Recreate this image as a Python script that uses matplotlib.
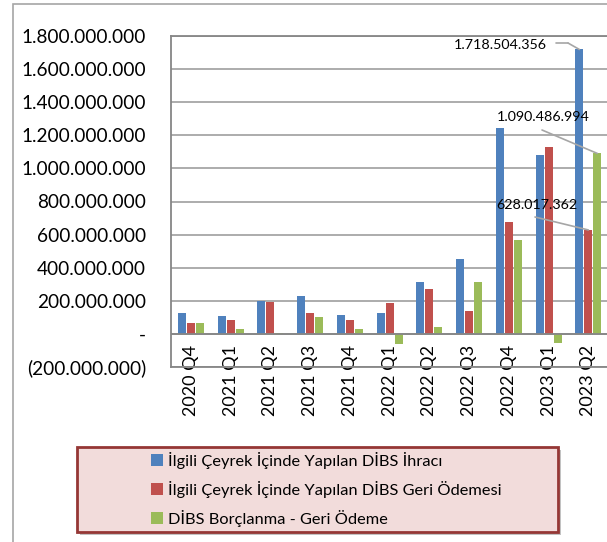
import numpy as np
import matplotlib
matplotlib.use('Agg')
import matplotlib.pyplot as plt
from matplotlib.patches import Rectangle, Patch
from matplotlib.ticker import FuncFormatter

plt.rcParams['font.family'] = ['Lato', 'DejaVu Sans']

# Veri
quarters = ['2020 Q4', '2021 Q1', '2021 Q2', '2021 Q3', '2021 Q4', '2022 Q1',
            '2022 Q2', '2022 Q3', '2022 Q4', '2023 Q1', '2023 Q2']
ihrac = [129e6, 111e6, 199e6, 230e6, 117e6, 129e6, 314e6, 453e6, 1247e6, 1080e6, 1718504356]
geri_odeme = [66e6, 83e6, 195e6, 129e6, 85e6, 187e6, 272e6, 139e6, 677e6, 1132e6, 628017362]
net = [63e6, 28e6, 5e6, 102e6, 29e6, -62e6, 44e6, 314e6, 570e6, -55e6, 1090486994]

series_names = ['İlgili Çeyrek İçinde Yapılan DİBS İhracı',
                'İlgili Çeyrek İçinde Yapılan DİBS Geri Ödemesi',
                'DİBS Borçlanma - Geri Ödeme']
colors = ['#4F81BD', '#C0504D', '#9BBB59']

W, H = 607, 542
fig = plt.figure(figsize=(W / 100, H / 100), dpi=100)

# grafik alani cercevesi
fig.patches.append(Rectangle((13 / W, -0.1), 1.2, 1.1 - 4 / H, transform=fig.transFigure,
                             fill=False, edgecolor='#A6A6A6', linewidth=1.2))

ax = fig.add_axes([171 / W, 1 - 367 / H, (W - 171) / W + 0.002, (367 - 36) / H])

x = np.arange(len(quarters))
width = 0.2
for i, (vals, c) in enumerate(zip([ihrac, geri_odeme, net], colors)):
    ax.bar(x + (i - 1) * 0.225, vals, width, color=c, zorder=3)

ax.set_xlim(-0.5, len(quarters) - 0.5)
ax.set_ylim(-200e6, 1800e6)
ax.set_yticks(np.arange(-200e6, 1800e6 + 1, 200e6))


def tr_format(v, pos):
    if abs(v) < 1:
        return '-'
    s = '{:,.0f}'.format(abs(v)).replace(',', '.')
    return '(' + s + ')' if v < 0 else s


ax.yaxis.set_major_formatter(FuncFormatter(tr_format))
ax.grid(axis='y', color='#A6A6A6', linewidth=1.3, zorder=0)
ax.axhline(0, color='#868686', linewidth=1.3, zorder=4)
for s in ax.spines.values():
    s.set_color('#868686')
    s.set_linewidth(1.3)
ax.spines['right'].set_visible(False)

ax.set_xticks(x)
ax.set_xticklabels(quarters, rotation=90, fontsize=13)
ax.tick_params(axis='x', length=0, pad=-16, labelcolor='black')
for lbl in ax.get_xticklabels():
    lbl.set_verticalalignment('top')
ax.tick_params(axis='y', length=0, pad=18, labelsize=13.7)

# etiketler ve kilavuz cizgileri
last = len(quarters) - 1
line_kw = dict(arrowstyle='-', color='#A6A6A6', lw=1.2, shrinkA=0, shrinkB=0)
ax.annotate('1.718.504.356', xy=(454, H - 45), xycoords='figure pixels',
            fontsize=10.3, va='center', ha='left', zorder=6)
ax.annotate('', xy=(568, H - 43), xycoords='figure pixels', xytext=(556, H - 43),
            textcoords='figure pixels', arrowprops=line_kw)
ax.annotate('', xy=(last - 0.225, ihrac[last]), xytext=(568, H - 43),
            textcoords='figure pixels', arrowprops=line_kw)
ax.annotate('1.090.486.994', xy=(497, H - 117), xycoords='figure pixels',
            fontsize=10.3, va='center', ha='left', zorder=6)
ax.annotate('', xy=(last + 0.225, net[last]), xytext=(542, H - 130),
            textcoords='figure pixels', arrowprops=line_kw)
ax.annotate('628.017.362', xy=(496, H - 205), xycoords='figure pixels',
            fontsize=10.3, va='center', ha='left', zorder=6)
ax.annotate('', xy=(last, geri_odeme[last]), xytext=(535, H - 217),
            textcoords='figure pixels', arrowprops=line_kw)

# lejant kutusu
lx0, ly0, lx1, ly1 = 77, 447, 558, 532
fig.patches.append(Rectangle(((lx0 + 3) / W, 1 - (ly1 + 3) / H), (lx1 - lx0) / W, (ly1 - ly0) / H,
                             transform=fig.transFigure, facecolor='#9A9A9A', edgecolor='none',
                             alpha=0.6, zorder=1))
fig.patches.append(Rectangle((lx0 / W, 1 - ly1 / H), (lx1 - lx0) / W, (ly1 - ly0) / H,
                             transform=fig.transFigure, facecolor='#F2DCDB',
                             edgecolor='#953735', linewidth=2, zorder=2))
handles = [Patch(facecolor=c, edgecolor='none') for c in colors]
leg = fig.legend(handles, series_names, loc='upper left',
                 bbox_to_anchor=(151 / W, 1 - 452 / H), frameon=False, fontsize=11.8,
                 borderaxespad=0, borderpad=0,
                 handlelength=0.72, handleheight=0.72, handletextpad=0.3, labelspacing=0.72)
leg.set_zorder(5)

plt.savefig('out.png', dpi=100)
